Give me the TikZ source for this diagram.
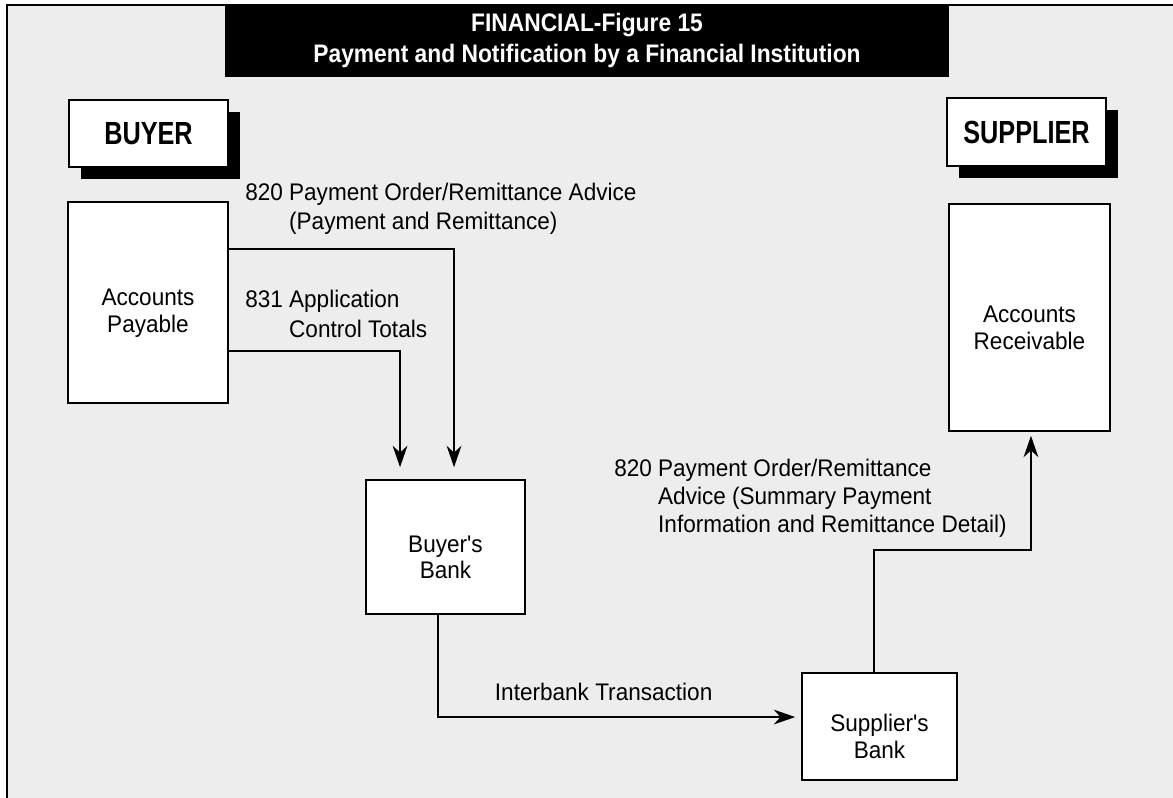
\documentclass[tikz,border=0pt]{standalone}
\usepackage{fontspec}
\setmainfont{Liberation Sans}
\newfontfamily\titlefont[FakeStretch=0.9]{Liberation Sans}
\newfontfamily\bodyfont[FakeStretch=0.94]{Liberation Sans}
\newfontfamily\partyfont[FakeStretch=0.79]{Liberation Sans}
\usetikzlibrary{arrows.meta,positioning,shadows}
\definecolor{panel}{RGB}{237,237,237}
\newcommand\lowtext{\rule{0pt}{28pt}}
\tikzset{
  box/.style={draw=black, line width=1.2pt, fill=white, inner sep=0pt, align=center,
    font=\bodyfont\fontsize{18}{20}\selectfont},
  party/.style={box, font=\partyfont\bfseries\fontsize{24}{28}\selectfont,
    drop shadow={shadow xshift=9pt, shadow yshift=-9pt, fill=black, opacity=1}},
  flow/.style={line width=1.6pt, -{Stealth[length=16pt,width=11pt,inset=5pt]}},
  msg/.style={inner sep=0pt, align=left, font=\bodyfont\fontsize{18}{21.75}\selectfont},
}
\begin{document}
\begin{tikzpicture}[x=0.75pt,y=0.75pt,yscale=-1,xscale=1]
\useasboundingbox (0,0) rectangle (1173,798);

%Shape: Panel
\fill [panel] (7,5) rectangle (1173,798);
\draw [line width=1.5pt] (7,798) -- (7,5) -- (1173,5);

% Title
\node [fill=black, text=white, inner sep=0pt, minimum width=543pt, minimum height=54.75pt,
  align=center, font=\titlefont\bfseries\fontsize{19}{23.25}\selectfont] (title) at (587,40.5)
  {FINANCIAL-Figure 15\\Payment and Notification by a Financial Institution};

%Shape: Rectangle
\node [party, minimum width=119.25pt, minimum height=50.25pt] (buyer) at (148.5,133.5) {BUYER};
\node [party, minimum width=119.25pt, minimum height=51pt] (supplier) at (1026.5,132) {SUPPLIER};

%Shape: Rectangle
\node [box, minimum width=120pt, minimum height=150.75pt] (payable) at (148,302.5) {\lowtext Accounts\\Payable};
\node [box, minimum width=120.75pt, minimum height=170.25pt] (receivable) at (1029.5,317.5) {\lowtext Accounts\\Receivable};
\node [box, minimum width=119.25pt, minimum height=100.5pt] (buyerbank) at (445.5,547) {\lowtext Buyer's\\Bank};
\node [box, minimum width=116.25pt, minimum height=80.25pt] (supplierbank) at (879.5,726.5) {\lowtext Supplier's\\Bank};

%Straight Lines
\draw [flow, shorten >=9pt] ([yshift=36pt]payable.north east) -| ([xshift=6.4pt]buyerbank.north);
\draw [flow, shorten >=9pt] ([yshift=112.5pt]payable.north east) -| ([xshift=-34.1pt]buyerbank.north);
\draw [flow, shorten >=4.5pt] ([xshift=-5.6pt]buyerbank.south) |- ([yshift=-7.1pt]supplierbank.west)
  node [msg, pos=0.728, anchor=base, yshift=12.75pt] (interbank) {Interbank Transaction};
\draw [flow, shorten >=3pt] ([xshift=-4.1pt]supplierbank.north) -- ++(0,-122) -| ([xshift=1.1pt]receivable.south);

% Text Node
\node [msg, anchor=base west] (advice) at (245,230)
  {820 Payment Order/Remittance Advice\\\phantom{820}\ (Payment and Remittance)};
% Text Node
\node [msg, anchor=base west] (totals) at (245,337)
  {831 Application\\\phantom{831}\ Control Totals};
% Text Node
\node [msg, anchor=base west, font=\bodyfont\fontsize{18}{21}\selectfont] (detail) at (614,532)
  {820 Payment Order/Remittance\\\phantom{820}\ Advice (Summary Payment\\\phantom{820}\ Information and Remittance Detail)};

\end{tikzpicture}
\end{document}
